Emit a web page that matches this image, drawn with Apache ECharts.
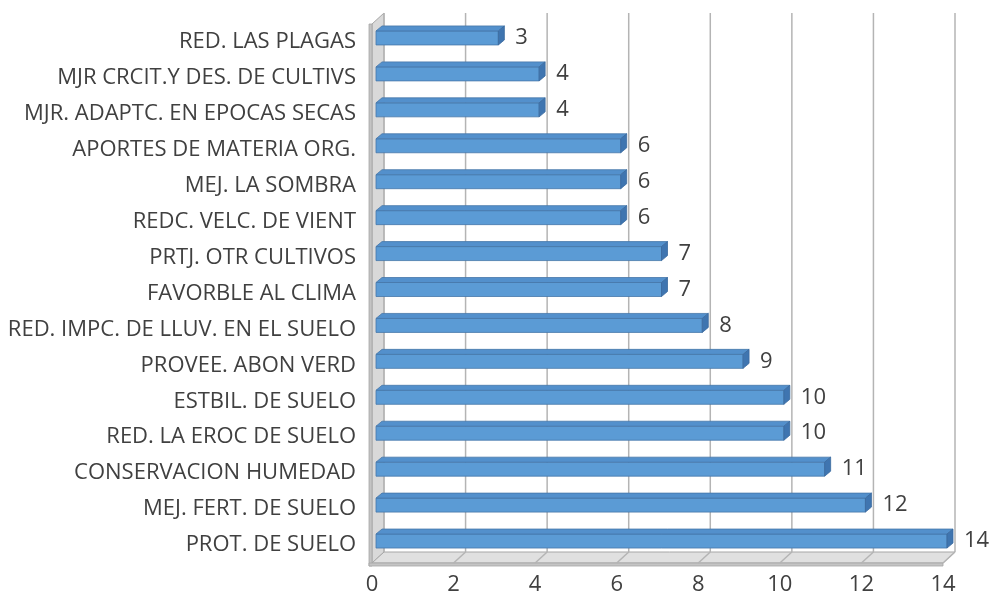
<!DOCTYPE html>
<html>
<head>
<meta charset="utf-8">
<script src="https://cdn.jsdelivr.net/npm/echarts@6/dist/echarts.min.js"></script>
<style>
  html, body { margin: 0; padding: 0; background: #fff; }
  #main { width: 991px; height: 601px; }
</style>
</head>
<body>
<div id="main"></div>
<script>
// categories top to bottom
var categories = [
  'RED. LAS PLAGAS',
  'MJR CRCIT.Y DES. DE CULTIVS',
  'MJR. ADAPTC. EN EPOCAS SECAS',
  'APORTES DE MATERIA ORG.',
  'MEJ. LA SOMBRA',
  'REDC. VELC. DE VIENT',
  'PRTJ. OTR CULTIVOS',
  'FAVORBLE AL CLIMA',
  'RED. IMPC. DE LLUV. EN EL SUELO',
  'PROVEE. ABON VERD',
  'ESTBIL. DE SUELO',
  'RED. LA EROC DE SUELO',
  'CONSERVACION HUMEDAD',
  'MEJ. FERT. DE SUELO',
  'PROT. DE SUELO'
];
var values = [3, 4, 4, 6, 6, 6, 7, 7, 8, 9, 10, 10, 11, 12, 14];
var xTicks = [0, 2, 4, 6, 8, 10, 12, 14];

var FONT = '"Open Sans", sans-serif';
var TXT = '#404040';
var FS = 22;
// depth of the 3d box (back wall offset)
var DX = 12, DY = 11;

var chartDom = document.getElementById('main');
var myChart = echarts.init(chartDom);

function renderFrame(params, api) {
  var cs = params.coordSys;
  var top = cs.y, bottom = cs.y + cs.height;
  var x = api.coord([api.value(0), 0])[0];
  var children = [];
  var lineStyle = { stroke: '#b4b4b4', lineWidth: 1.5 };
  if (params.dataIndex === 0) {
    var xEnd = api.coord([xTicks[xTicks.length - 1], 0])[0];
    // left wall
    children.push({
      type: 'polygon',
      shape: { points: [[x, top], [x + DX, top - DY], [x + DX, bottom - DY], [x, bottom]] },
      style: { fill: '#d9d9d9', stroke: '#a6a6a6', lineWidth: 1 }
    });
    children.push({
      type: 'rect',
      shape: { x: x - 3, y: top, width: 3, height: bottom - top + 3 },
      style: { fill: '#c4c4c4', stroke: '#a6a6a6', lineWidth: 0.8 }
    });
    // floor
    children.push({
      type: 'polygon',
      shape: { points: [[x, bottom], [x + DX, bottom - DY], [xEnd + DX, bottom - DY], [xEnd, bottom]] },
      style: { fill: '#e0e0e0', stroke: '#a6a6a6', lineWidth: 1 }
    });
    children.push({
      type: 'rect',
      shape: { x: x - 3, y: bottom, width: xEnd - x + 3, height: 3 },
      style: { fill: '#c4c4c4', stroke: '#a6a6a6', lineWidth: 0.8 }
    });
  } else {
    children.push({
      type: 'line',
      shape: { x1: x + DX, y1: bottom - DY, x2: x, y2: bottom },
      style: lineStyle
    });
  }
  children.push({
    type: 'line',
    shape: { x1: x + DX, y1: top - DY, x2: x + DX, y2: bottom - DY },
    style: lineStyle
  });
  return { type: 'group', children: children };
}

function renderBar(params, api) {
  var v = api.value(0);
  var p0 = api.coord([0, api.value(1)]);
  var p1 = api.coord([v, api.value(1)]);
  var x0 = p0[0] + 4, x1 = p1[0] + 4;
  var yc = p0[1] - 4;
  var h = 14, d = 6, dd = 5;
  var yt = yc - h / 2, yb = yc + h / 2;
  return {
    type: 'group',
    children: [
      {
        type: 'rect',
        shape: { x: x0, y: yt, width: x1 - x0, height: h },
        style: { fill: '#5b9bd5', stroke: '#4677aa', lineWidth: 0.8 }
      },
      {
        type: 'polygon',
        shape: { points: [[x0, yt], [x0 + d, yt - dd], [x1 + d, yt - dd], [x1, yt]] },
        style: { fill: '#5390cc', stroke: '#4677aa', lineWidth: 0.8 }
      },
      {
        type: 'polygon',
        shape: { points: [[x1, yt], [x1 + d, yt - dd], [x1 + d, yb - dd], [x1, yb]] },
        style: { fill: '#3f75b0', stroke: '#3a6a9e', lineWidth: 0.8 }
      },
      {
        type: 'text',
        style: {
          x: x1 + d + 11, y: yc,
          text: String(v),
          fill: TXT, font: FS + 'px ' + FONT,
          verticalAlign: 'middle', align: 'left'
        }
      }
    ]
  };
}

var option = {
  animation: false,
  grid: { left: 372, right: 48, top: 24, bottom: 38 },
  xAxis: {
    type: 'value',
    min: 0, max: 14, interval: 2,
    axisLine: { show: false },
    axisTick: { show: false },
    splitLine: { show: false },
    axisLabel: { color: TXT, fontSize: FS, fontFamily: FONT, margin: 11 }
  },
  yAxis: {
    type: 'category',
    inverse: true,
    data: categories,
    axisLine: { show: false },
    axisTick: { show: false },
    axisLabel: { color: TXT, fontSize: FS, fontFamily: FONT, margin: 16 }
  },
  series: [
    {
      type: 'custom',
      z: 1,
      renderItem: renderFrame,
      data: xTicks.map(function (t) { return [t, 0]; }),
      encode: { x: 0, y: 1 },
      silent: true
    },
    {
      type: 'custom',
      z: 2,
      renderItem: renderBar,
      data: values.map(function (v, i) { return [v, i]; }),
      encode: { x: 0, y: 1 }
    }
  ]
};

option && myChart.setOption(option);
</script>
</body>
</html>
